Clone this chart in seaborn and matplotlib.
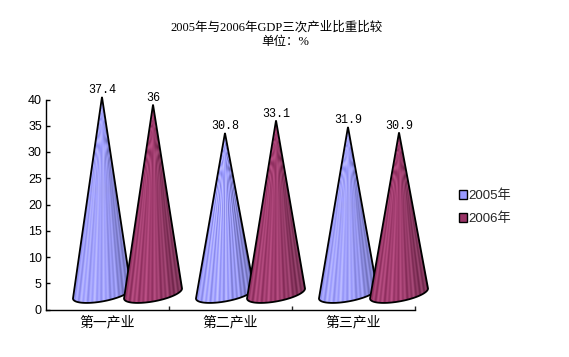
import numpy as np
import pandas as pd
import seaborn as sns
import matplotlib.pyplot as plt
from matplotlib.colors import to_rgb
from matplotlib.patches import Patch, Polygon

categories = ["第一产业", "第二产业", "第三产业"]
years = ["2005年", "2006年"]
values_2005 = [37.4, 30.8, 31.9]
values_2006 = [36, 33.1, 30.9]
colors = ["#9999FF", "#993366"]

SERIF = ["Liberation Serif", "Noto Sans CJK SC"]
SANS = ["Liberation Sans", "Noto Sans CJK SC"]

df = pd.DataFrame({
    "category": categories * 2,
    "year": [years[0]] * 3 + [years[1]] * 3,
    "value": values_2005 + values_2006,
})

sns.set_theme(style="ticks", rc={"axes.linewidth": 1, "axes.edgecolor": "black"})
plt.rcParams["font.family"] = SANS

W, H = 569, 357
fig = plt.figure(figsize=(W / 100, H / 100), dpi=100, facecolor="white")
ax = fig.add_axes([46 / W, 1 - 309.5 / H, 369 / W, 210 / H])

sns.barplot(data=df, x="category", y="value", hue="year", hue_order=years,
            palette=colors, width=0.83, legend=False, ax=ax)

# pixels to data units, the cones are sketched in pixels
PX = 1 / 123
PY = 1 / 5.25


def draw_cone(cx, apex, color, z):
    # fake 3d: tilted elliptical base, lifted off the floor
    base = 3.05
    t = np.linspace(np.pi, 2 * np.pi, 60)
    ex = cx + 29 * PX * np.cos(t)
    ey = base + (5 * np.cos(t) + 8 * np.sin(t)) * PY
    # the right end of the base sits higher, go around through the bottom
    pts = np.column_stack([np.r_[cx, ex], np.r_[apex, ey]])

    poly = Polygon(pts, closed=True, facecolor="none", edgecolor="black",
                   linewidth=1.3, zorder=z + 0.5, clip_on=False)
    ax.add_patch(poly)

    # shading follows the cone: stripes fan out from the apex
    xs = np.linspace(cx - 30 * PX, cx + 30 * PX, 60)
    ys = np.linspace(0, apex, 215)
    gx, gy = np.meshgrid(xs, ys)
    half = np.maximum(29 * PX * (apex - gy) / (apex - base), 1e-3)
    u = np.clip((gx - cx) / half, -1, 1)
    light = 1.0 - 0.27 * np.clip(u + 0.1, 0, 1) ** 1.3 - 0.06 * np.clip(-u - 0.5, 0, 1)
    stripes = np.sin(u * 42) + 0.4 * np.sin(u * 17)
    shade = (light + 0.05 * stripes)[..., None]
    img = np.clip(shade * np.array(to_rgb(color)) + 0.05 + 0.05 * stripes[..., None], 0, 1)

    im = ax.imshow(img, extent=(xs[0], xs[-1], ys[0], ys[-1]), origin="lower",
                   aspect="auto", interpolation="bilinear", zorder=z)
    im.set_clip_box(fig.bbox)
    im.set_clip_path(poly)


for i, cont in enumerate(ax.containers):
    for j, bar in enumerate(cont.patches):
        bar.set_visible(False)
        v = bar.get_height()
        cx = bar.get_x() + bar.get_width() / 2 + 20 * PX
        apex = 1.6 + v * 1.04
        draw_cone(cx, apex, colors[i], 3 + j * 2 + i * 0.5)
        ax.text(cx, apex + 0.1, f"{v:g}", ha="center", va="bottom", fontsize=8.5,
                family=["Liberation Mono"], color="black", zorder=10, clip_on=False)

ax.set_xlim(-0.5, 2.5)
ax.set_ylim(0, 40)
ax.set_yticks(range(0, 41, 5))
ax.set_xticks([0.5, 1.5, 2.5])
ax.set_xticklabels([])
ax.set_xticks([0, 1, 2], categories, minor=True)
ax.tick_params(axis="x", which="major", direction="in", length=3, width=1, top=False)
ax.tick_params(axis="x", which="minor", length=0, pad=4, labelsize=10, colors="black")
ax.tick_params(axis="y", direction="in", length=3, width=1, pad=3, labelsize=9, colors="black")
ax.set_xlabel("")
ax.set_ylabel("")
ax.set_facecolor("white")
sns.despine(ax=ax)

handles = [Patch(facecolor=c, edgecolor="black", linewidth=1, label=y) for c, y in zip(colors, years)]
fig.legend(handles=handles, loc="center left", bbox_to_anchor=(447 / W, 1 - 207.5 / H), frameon=False,
           fontsize=9.5, handlelength=0.62, handleheight=0.62, handletextpad=0.1, labelspacing=0.8)

fig.text(277 / W, 1 - 27 / H, "2005年与2006年GDP三次产业比重比较", ha="center", va="center",
         fontsize=9, family=SERIF, color="black")
fig.text(285 / W, 1 - 42 / H, "单位：%", ha="center", va="center",
         fontsize=9, family=SERIF, color="black")

fig.savefig("out.png", dpi=100, facecolor="white")
